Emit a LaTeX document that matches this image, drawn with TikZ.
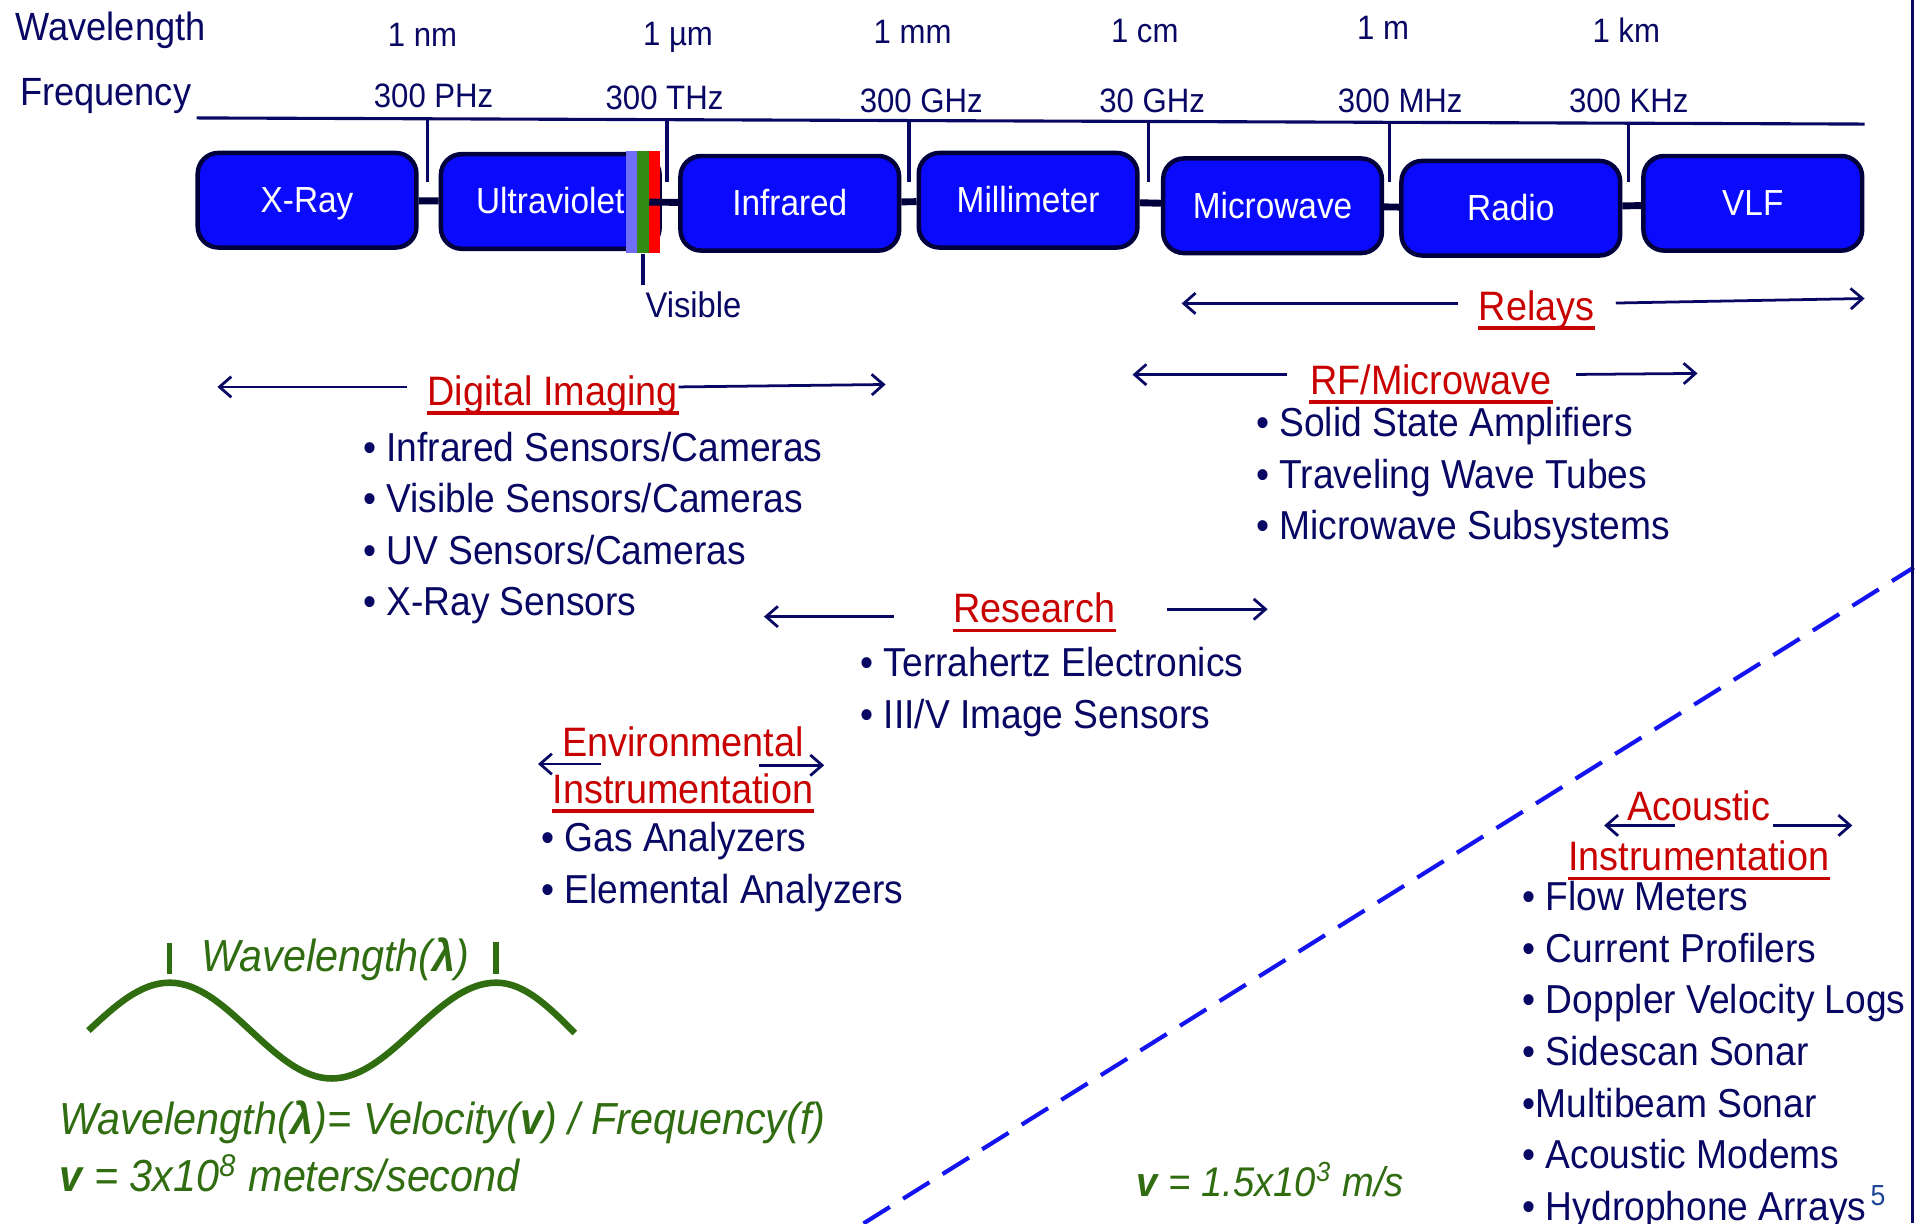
\documentclass[tikz,border=0pt]{standalone}
\usepackage{fontspec}
\setmainfont[FakeStretch=0.92]{Liberation Sans}
\usetikzlibrary{arrows.meta}
\definecolor{navy}{RGB}{8,8,100}
\definecolor{hred}{RGB}{200,0,0}
\definecolor{boxfill}{RGB}{10,10,252}
\definecolor{boxedge}{RGB}{0,0,60}
\definecolor{wgreen}{RGB}{48,108,16}
\definecolor{lavender}{RGB}{110,110,250}
\definecolor{visgreen}{RGB}{50,140,20}
\definecolor{dashblue}{RGB}{20,20,240}
\definecolor{numblue}{RGB}{30,70,150}
\tikzstyle{band}=[draw=boxedge, line width=1.3pt, fill=boxfill, rounded corners=6pt, minimum width=2.225cm, minimum height=0.9625cm, text=white, text height=0.716em, text depth=0pt, font=\fontsize{10.5}{12}\selectfont]
\tikzstyle{link}=[draw=boxedge, line width=2pt]
\tikzstyle{scaleline}=[draw=navy, line width=0.9pt]
\tikzstyle{sidelbl}=[text=navy, inner sep=0pt, font=\fontsize{11.4}{13}\selectfont]
\tikzstyle{scalelbl}=[text=navy, inner sep=0pt, font=\fontsize{9.8}{11}\selectfont]
\tikzstyle{stripe}=[minimum width=0.1125cm, minimum height=1.0375cm, inner sep=0pt]
\tikzstyle{heading}=[text=hred, anchor=base, inner sep=0pt, text depth=0.2em, font=\fontsize{11.9}{14}\selectfont]
\tikzstyle{uline}=[draw=hred, line width=1pt]
\tikzstyle{items}=[text=navy, align=left, anchor=north west, inner sep=0pt, font=\fontsize{11.7}{14.94}\selectfont]
\tikzstyle{connect}=[draw=navy, line width=0.8pt, -{Straight Barb[length=1.2mm, width=2.1mm]}]
\tikzstyle{greenlbl}=[text=wgreen, inner sep=0pt, font=\fontsize{13}{15}\selectfont\itshape]
\tikzstyle{wave}=[draw=wgreen, line width=1.9pt]

\begin{document}
\begin{tikzpicture}[x=0.0125cm, y=-0.0125cm]

    \useasboundingbox (0,0) rectangle (1568,996);

    % scale
    \node[sidelbl] (wl) at (90,25) {Wavelength};
    \node[sidelbl] (fq) at (86,78) {Frequency};
    \node[scalelbl] (w1) at (344,28) {1 nm};
    \node[scalelbl] (w2) at (552,30) {1 µm};
    \node[scalelbl] (w3) at (743,26) {1 mm};
    \node[scalelbl] (w4) at (932,25) {1 cm};
    \node[scalelbl] (w5) at (1126,23) {1 m};
    \node[scalelbl] (w6) at (1324,25) {1 km};
    \node[scalelbl] (f1) at (353,78) {300 PHz};
    \node[scalelbl] (f2) at (541,80) {300 THz};
    \node[scalelbl] (f3) at (750,82) {300 GHz};
    \node[scalelbl] (f4) at (938,82) {30 GHz};
    \node[scalelbl] (f5) at (1140,82) {300 MHz};
    \node[scalelbl] (f6) at (1326,82) {300 KHz};
    \coordinate (axL) at (160,96);
    \coordinate (axR) at (1518,101);
    \draw[scaleline] (axL) -- (axR);
    \foreach \x in {348,543,740,935,1131,1326}
        \draw[scaleline] (\x,{96+5*(\x-160)/1358}) -- (\x,148);

    % spectrum row
    \node[band] (xray) at (250,163) {X-Ray};
    \node[band] (uv) at (448,164) {Ultraviolet};
    \node[band] (ir) at (643,165.5) {Infrared};
    \node[band] (mm) at (837,163) {Millimeter};
    \node[band] (mw) at (1036,167.5) {Microwave};
    \node[band] (radio) at (1230,169.5) {Radio};
    \node[band] (vlf) at (1427,165.5) {VLF};

    % visible stripes
    \node[stripe, fill=lavender] (vb) at (514.5,164.5) {};
    \node[stripe, fill=visgreen] (vg) at (523.5,164.5) {};
    \node[stripe, fill=red] (vr) at (532.5,164.5) {};
    \node[scalelbl, anchor=west, font=\fontsize{10.3}{12}\selectfont] (vis) at (525,248) {Visible};
    \draw[scaleline] (vg.south) -- ([yshift=0.06cm]vg.south |- vis.north);

    \path
        (xray) edge [link] (uv)
        (vg) edge [link] (ir)
        (ir) edge [link] (mm)
        (mm) edge [link] (mw)
        (mw) edge [link] (radio)
        (radio) edge [link] (vlf)
        ;

    % relays
    \node[heading] (relays) at (1251,261) {Relays};
    \coordinate (relL) at (962,247);
    \coordinate (relR) at (1518,243);
    \draw[uline] (relays.south west) -- (relays.south east);
    \draw[connect, shorten <=0.2cm] (relays.west |- relL) -- (relL);
    \draw[connect, shorten <=0.21cm] (relays.east |- relL) -- (relR);

    % digital imaging
    \node[heading] (dig) at (450,330) {Digital Imaging};
    \coordinate (digL) at (177,315);
    \coordinate (digR) at (721,313);
    \draw[uline] (dig.south west) -- (dig.south east);
    \draw[connect, shorten <=0.2cm] (dig.west |- digL) -- (digL);
    \draw[connect] (dig.east |- digL) -- (digR);
    \node[items] (diglist) at (295,351) {• Infrared Sensors/Cameras\\• Visible Sensors/Cameras\\• UV Sensors/Cameras\\• X-Ray Sensors};

    % rf / microwave
    \node[heading] (rf) at (1165,321) {RF/Microwave};
    \coordinate (rfL) at (922,305);
    \coordinate (rfR) at (1382,304);
    \draw[uline] (rf.south west) -- (rf.south east);
    \draw[connect, shorten <=0.225cm] (rf.west |- rfL) -- (rfL);
    \draw[connect, shorten <=0.24cm] (rf.east |- rfL) -- (rfR);
    \node[items] (rflist) at (1022,331) {• Solid State Amplifiers\\• Traveling Wave Tubes\\• Microwave Subsystems};

    % research
    \node[heading] (res) at (842,507) {Research};
    \coordinate (resL) at (622,502);
    \coordinate (resR) at (1032,496);
    \draw[uline] (res.south west) -- (res.south east);
    \draw[connect, shorten <=0.6cm] (res.west |- resL) -- (resL);
    \draw[connect, shorten <=0.525cm] (res.east |- resR) -- (resR);
    \node[items] (reslist) at (700,526.5) {• Terrahertz Electronics\\• III/V Image Sensors};

    % environmental
    \node[heading] (envA) at (556,616) {Environmental};
    \node[heading] (envB) at (556,654) {Instrumentation};
    \coordinate (envL) at (438,622);
    \coordinate (envR) at (671,623);
    \draw[uline] (envB.south west) -- (envB.south east);
    \draw[connect, shorten <=-0.4cm] (envA.west |- envL) -- (envL);
    \draw[connect, shorten <=-0.46cm] (envA.east |- envR) -- (envR);
    \node[items] (envlist) at (440,669) {• Gas Analyzers\\• Elemental Analyzers};

    % acoustic
    \node[heading] (acA) at (1383,668) {Acoustic};
    \node[heading] (acB) at (1383,709) {Instrumentation};
    \coordinate (acL) at (1306,672);
    \coordinate (acR) at (1508,672);
    \draw[uline] (acB.south west) -- (acB.south east);
    \draw[connect, shorten <=-0.49cm] (acA.west |- acL) -- (acL);
    \draw[connect, shorten <=0.025cm] (acA.east |- acR) -- (acR);
    \node[items] (aclist) at (1239,717) {• Flow Meters\\• Current Profilers\\• Doppler Velocity Logs\\• Sidescan Sonar\\•Multibeam Sonar\\• Acoustic Modems\\• Hydrophone Arrays};
    \node[text=numblue, inner sep=0pt, font=\fontsize{8.4}{10}\selectfont] (pgnum) at (1529,973) {5};

    % air / sea divide
    \coordinate (divA) at (703,996);
    \coordinate (divB) at (1558,462);
    \draw[draw=dashblue, line width=1.2pt, dash pattern=on 9pt off 4.5pt] (divA) -- (divB);
    \draw[draw=navy, line width=0.8pt] (1557,0) -- (1557,996);

    % wave
    \draw[wave] (72,839) sin (138,800) cos (204,839) sin (270,878) cos (337,839) sin (404,800) cos (468,841);
    \draw[wave, line width=1.6pt] (138,768) -- (138,793);
    \draw[wave, line width=1.6pt] (404,767) -- (404,793);
    \node[greenlbl] (lam) at (273,781) {Wavelength(\textbf{λ})};
    \node[greenlbl, anchor=base west] (formula) at (48,924) {Wavelength(\textbf{λ})= Velocity(\textbf{v}) / Frequency(f)};
    \node[greenlbl, anchor=base west] (vair) at (48,970) {\textbf{v} = 3x10\textsuperscript{8} meters/second};
    \node[greenlbl, anchor=base west, font=\fontsize{12}{14}\selectfont\itshape] (vsea) at (925,974) {\textbf{v} = 1.5x10\textsuperscript{3} m/s};

\end{tikzpicture}
\end{document}
